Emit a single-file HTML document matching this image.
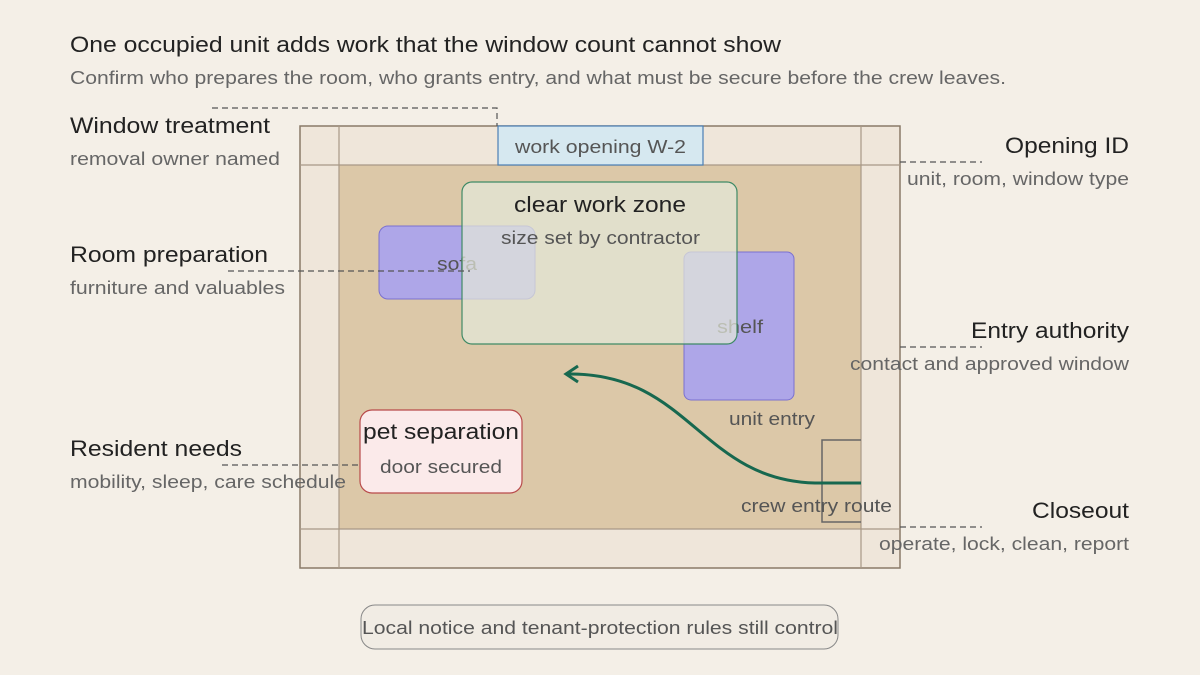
<!DOCTYPE html>
<html><head><meta charset="utf-8"><style>
html,body{margin:0;padding:0;background:#f4efe7;}
svg{display:block;font-family:"Liberation Sans",sans-serif;}
</style></head><body>
<svg width="1200" height="675" viewBox="0 0 1200 675" xmlns="http://www.w3.org/2000/svg">
<rect width="1200" height="675" fill="#f4efe7"/>
<text x="70" y="52" font-size="22" fill="#222" textLength="711" lengthAdjust="spacingAndGlyphs">One occupied unit adds work that the window count cannot show</text>
<text x="70" y="84" font-size="18" fill="#666" textLength="936" lengthAdjust="spacingAndGlyphs">Confirm who prepares the room, who grants entry, and what must be secure before the crew leaves.</text>

<rect x="300" y="126" width="600" height="442" fill="#efe6da" stroke="#8a7a68" stroke-width="1.5"/>
<rect x="339" y="165" width="522" height="364" fill="#dcc8a8"/>
<g stroke="#a89886" stroke-width="1.2" fill="none">
<line x1="300" y1="165" x2="900" y2="165"/>
<line x1="300" y1="529" x2="900" y2="529"/>
<line x1="339" y1="126" x2="339" y2="568"/>
<line x1="861" y1="126" x2="861" y2="568"/>
</g>
<rect x="498" y="126" width="205" height="39" fill="#d6e8f0" stroke="#4a7fb5" stroke-width="1.2"/>
<text x="515" y="153" font-size="18" fill="#555" textLength="171" lengthAdjust="spacingAndGlyphs">work opening W-2</text>

<rect x="379" y="226" width="156" height="73" rx="9" fill="#aea6e8" stroke="#7a70d0" stroke-width="1"/>
<text x="437" y="270" font-size="18" fill="#555" textLength="40" lengthAdjust="spacingAndGlyphs">sofa</text>
<rect x="684" y="252" width="110" height="148" rx="7" fill="#aea6e8" stroke="#7a70d0" stroke-width="1"/>
<text x="717" y="333" font-size="18" fill="#555" textLength="46" lengthAdjust="spacingAndGlyphs">shelf</text>

<rect x="462" y="182" width="275" height="162" rx="10" fill="#e3e8d8" fill-opacity="0.72" stroke="#3f8a66" stroke-width="1.2"/>
<text x="514" y="212" font-size="22" fill="#222" textLength="172" lengthAdjust="spacingAndGlyphs">clear work zone</text>
<text x="501" y="244" font-size="18" fill="#555" textLength="199" lengthAdjust="spacingAndGlyphs">size set by contractor</text>

<text x="729" y="425" font-size="18" fill="#555" textLength="86" lengthAdjust="spacingAndGlyphs">unit entry</text>

<rect x="360" y="410" width="162" height="83" rx="12" fill="#fbeaea" stroke="#b84a4a" stroke-width="1.2"/>
<text x="363" y="439" font-size="22" fill="#222" textLength="156" lengthAdjust="spacingAndGlyphs">pet separation</text>
<text x="380" y="473" font-size="18" fill="#555" textLength="122" lengthAdjust="spacingAndGlyphs">door secured</text>

<path d="M861 440 L822 440 L822 522 L861 522" fill="none" stroke="#666" stroke-width="1.5"/>
<path d="M861 483 L815 483 C700 480 690 372 567 374" fill="none" stroke="#17684f" stroke-width="3"/>
<path d="M578 366 L566 374 L578 382" fill="none" stroke="#17684f" stroke-width="3"/>
<text x="741" y="512" font-size="18" fill="#555" textLength="151" lengthAdjust="spacingAndGlyphs">crew entry route</text>

<g stroke="#555" stroke-width="1.2" stroke-dasharray="6,4" fill="none">
<path d="M212 108 L497 108 L497 126"/>
<path d="M228 271 L470 271"/>
<path d="M222 465 L360 465"/>
<path d="M900 162 L982 162"/>
<path d="M900 347 L982 347"/>
<path d="M900 527 L982 527"/>
</g>

<text x="70" y="133" font-size="22" fill="#222" textLength="200" lengthAdjust="spacingAndGlyphs">Window treatment</text>
<text x="70" y="165" font-size="18" fill="#666" textLength="210" lengthAdjust="spacingAndGlyphs">removal owner named</text>
<text x="70" y="262" font-size="22" fill="#222" textLength="198" lengthAdjust="spacingAndGlyphs">Room preparation</text>
<text x="70" y="294" font-size="18" fill="#666" textLength="215" lengthAdjust="spacingAndGlyphs">furniture and valuables</text>
<text x="70" y="456" font-size="22" fill="#222" textLength="172" lengthAdjust="spacingAndGlyphs">Resident needs</text>
<text x="70" y="488" font-size="18" fill="#666" textLength="276" lengthAdjust="spacingAndGlyphs">mobility, sleep, care schedule</text>

<text x="1005" y="153" font-size="22" fill="#222" textLength="124" lengthAdjust="spacingAndGlyphs">Opening ID</text>
<text x="907" y="185" font-size="18" fill="#666" textLength="222" lengthAdjust="spacingAndGlyphs">unit, room, window type</text>
<text x="971" y="338" font-size="22" fill="#222" textLength="158" lengthAdjust="spacingAndGlyphs">Entry authority</text>
<text x="850" y="370" font-size="18" fill="#666" textLength="279" lengthAdjust="spacingAndGlyphs">contact and approved window</text>
<text x="1032" y="518" font-size="22" fill="#222" textLength="97" lengthAdjust="spacingAndGlyphs">Closeout</text>
<text x="879" y="550" font-size="18" fill="#666" textLength="250" lengthAdjust="spacingAndGlyphs">operate, lock, clean, report</text>

<rect x="361" y="605" width="477" height="44" rx="14" fill="#f1ece4" stroke="#888" stroke-width="1"/>
<text x="362" y="634" font-size="18" fill="#555" textLength="476" lengthAdjust="spacingAndGlyphs">Local notice and tenant-protection rules still control</text>
</svg>
</body></html>
